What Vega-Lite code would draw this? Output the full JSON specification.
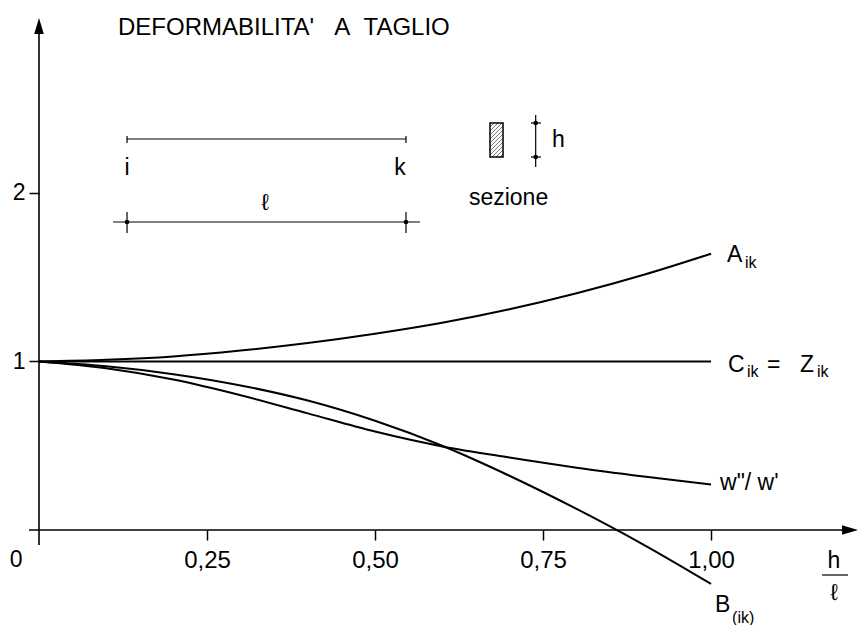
{
  "$schema": "https://vega.github.io/schema/vega-lite/v6.json",
  "width": 821,
  "height": 625,
  "autosize": {"type": "none"},
  "padding": {"left": 39, "top": 0, "right": 0, "bottom": 0},
  "background": "white",
  "config": {
    "view": {"stroke": null},
    "text": {"font": "Liberation Sans", "color": "black"}
  },
  "datasets": {
    "curves": [
      {"series": "A", "x": 0, "y": 1}, {"series": "A", "x": 0.1, "y": 1.01}, {"series": "A", "x": 0.2, "y": 1.03},
      {"series": "A", "x": 0.3, "y": 1.065}, {"series": "A", "x": 0.4, "y": 1.11}, {"series": "A", "x": 0.5, "y": 1.165},
      {"series": "A", "x": 0.6, "y": 1.23}, {"series": "A", "x": 0.7, "y": 1.31}, {"series": "A", "x": 0.8, "y": 1.405},
      {"series": "A", "x": 0.9, "y": 1.515}, {"series": "A", "x": 1.0, "y": 1.64},
      {"series": "C", "x": 0, "y": 1}, {"series": "C", "x": 1.0, "y": 1},
      {"series": "B", "x": 0, "y": 1}, {"series": "B", "x": 0.1, "y": 0.972}, {"series": "B", "x": 0.2, "y": 0.925},
      {"series": "B", "x": 0.3, "y": 0.858}, {"series": "B", "x": 0.4, "y": 0.768}, {"series": "B", "x": 0.5, "y": 0.648},
      {"series": "B", "x": 0.6, "y": 0.5}, {"series": "B", "x": 0.7, "y": 0.322}, {"series": "B", "x": 0.8, "y": 0.125},
      {"series": "B", "x": 0.9, "y": -0.088}, {"series": "B", "x": 1.0, "y": -0.32},
      {"series": "W", "x": 0, "y": 1}, {"series": "W", "x": 0.1, "y": 0.96}, {"series": "W", "x": 0.2, "y": 0.893},
      {"series": "W", "x": 0.3, "y": 0.8}, {"series": "W", "x": 0.4, "y": 0.692}, {"series": "W", "x": 0.5, "y": 0.584},
      {"series": "W", "x": 0.6, "y": 0.496}, {"series": "W", "x": 0.7, "y": 0.43}, {"series": "W", "x": 0.8, "y": 0.37},
      {"series": "W", "x": 0.9, "y": 0.318}, {"series": "W", "x": 1.0, "y": 0.27}
    ],
    "axisLines": [
      {"x": 0, "y": -0.089, "x2": 0, "y2": 2.97},
      {"x": -0.0149, "y": 0, "x2": 1.2, "y2": 0}
    ],
    "insetLines": [
      {"x": 0.131, "y": 2.3205, "x2": 0.5461, "y2": 2.3205},
      {"x": 0.131, "y": 2.3383, "x2": 0.131, "y2": 2.2967},
      {"x": 0.5461, "y": 2.3383, "x2": 0.5461, "y2": 2.2967},
      {"x": 0.1101, "y": 1.8279, "x2": 0.567, "y2": 1.8279},
      {"x": 0.131, "y": 1.8872, "x2": 0.131, "y2": 1.7626},
      {"x": 0.5461, "y": 1.8872, "x2": 0.5461, "y2": 1.7626},
      {"x": 0.7391, "y": 2.4629, "x2": 0.7391, "y2": 2.1543},
      {"x": 0.7321, "y": 2.4154, "x2": 0.747, "y2": 2.4154},
      {"x": 0.7321, "y": 2.2136, "x2": 0.747, "y2": 2.2136},
      {"x": 1.1652, "y": -0.2671, "x2": 1.2039, "y2": -0.2671}
    ],
    "hatch": [
      {"x": 0.6711, "y": 2.3917, "x2": 0.6771, "y2": 2.4154},
      {"x": 0.6711, "y": 2.368, "x2": 0.683, "y2": 2.4154},
      {"x": 0.6711, "y": 2.3442, "x2": 0.689, "y2": 2.4154},
      {"x": 0.6711, "y": 2.3205, "x2": 0.6905, "y2": 2.3976},
      {"x": 0.6711, "y": 2.2967, "x2": 0.6905, "y2": 2.3739},
      {"x": 0.6711, "y": 2.273, "x2": 0.6905, "y2": 2.3501},
      {"x": 0.6711, "y": 2.2493, "x2": 0.6905, "y2": 2.3264},
      {"x": 0.6711, "y": 2.2255, "x2": 0.6905, "y2": 2.3027},
      {"x": 0.6741, "y": 2.2136, "x2": 0.6905, "y2": 2.2789},
      {"x": 0.6801, "y": 2.2136, "x2": 0.6905, "y2": 2.2552},
      {"x": 0.686, "y": 2.2136, "x2": 0.6905, "y2": 2.2315}
    ],
    "section": [{"x": 0.6711, "x2": 0.6905, "y": 2.4154, "y2": 2.2136}],
    "dots": [
      {"x": 0.131, "y": 1.8279}, {"x": 0.5461, "y": 1.8279},
      {"x": 0.7391, "y": 2.4154}, {"x": 0.7391, "y": 2.2136}
    ],
    "arrowUp": [{"x": 0, "y": 2.991}],
    "arrowRight": [{"x": 1.2068, "y": 0}],
    "labelsLeft": [
      {"t": "A", "x": 1.0238, "y": 1.5905},
      {"t": "C", "x": 1.0253, "y": 0.9377},
      {"t": "=", "x": 1.0833, "y": 0.9377},
      {"t": "Z", "x": 1.1324, "y": 0.9377},
      {"t": "w\"/ w'", "x": 1.0134, "y": 0.2374},
      {"t": "B", "x": 1.006, "y": -0.4866},
      {"t": "h", "x": 0.7634, "y": 2.273}
    ],
    "subs": [
      {"t": "ik", "x": 1.0506, "y": 1.5549},
      {"t": "ik", "x": 1.0536, "y": 0.908},
      {"t": "ik", "x": 1.1577, "y": 0.908},
      {"t": "(ik)", "x": 1.0313, "y": -0.5519}
    ],
    "labelsCenter": [
      {"t": "i", "x": 0.131, "y": 2.107},
      {"t": "k", "x": 0.5372, "y": 2.107},
      {"t": "ℓ", "x": 0.3363, "y": 1.899},
      {"t": "sezione", "x": 0.6987, "y": 1.9288},
      {"t": "h", "x": 1.183, "y": -0.2255},
      {"t": "ℓ", "x": 1.183, "y": -0.4154},
      {"t": "0", "x": -0.0342, "y": -0.2196}
    ],
    "title": [{"t": "DEFORMABILITA'\u00a0\u00a0\u00a0A\u00a0\u00a0TAGLIO", "x": 0.1176, "y": 2.9377}]
  },
  "layer": [
    {
      "data": {"name": "curves"},
      "mark": {"type": "line", "interpolate": "monotone", "color": "black", "strokeWidth": 2},
      "encoding": {
        "x": {
          "field": "x", "type": "quantitative", "title": null,
          "scale": {"domain": [0, 1.2217], "nice": false, "zero": false},
          "axis": {
            "orient": "bottom", "offset": -95, "values": [0.25, 0.5, 0.75, 1.0],
            "domain": false, "grid": false, "tickSize": 10, "tickWidth": 1.5, "tickColor": "black",
            "labelExpr": "replace(format(datum.value, '.2f'), '.', ',')",
            "labelFont": "Liberation Sans", "labelFontSize": 24, "labelColor": "black",
            "labelPadding": 8, "title": null
          }
        },
        "y": {
          "field": "y", "type": "quantitative", "title": null,
          "scale": {"domain": [-0.5638, 3.1454], "nice": false, "zero": false},
          "axis": {
            "orient": "left", "values": [1, 2], "domain": false, "grid": false,
            "tickSize": 10, "tickWidth": 1.5, "tickColor": "black",
            "labelExpr": "format(datum.value, 'd')",
            "labelFont": "Liberation Sans", "labelFontSize": 23, "labelColor": "black",
            "labelPadding": 4, "title": null
          }
        },
        "detail": {"field": "series"}
      }
    },
    {
      "data": {"name": "axisLines"},
      "mark": {"type": "rule", "color": "black", "strokeWidth": 1.6},
      "encoding": {
        "x": {"field": "x", "type": "quantitative", "title": null},
        "y": {"field": "y", "type": "quantitative", "title": null},
        "x2": {"field": "x2"},
        "y2": {"field": "y2"}
      }
    },
    {
      "data": {"name": "insetLines"},
      "mark": {"type": "rule", "color": "black", "strokeWidth": 1.2},
      "encoding": {
        "x": {"field": "x", "type": "quantitative", "title": null},
        "y": {"field": "y", "type": "quantitative", "title": null},
        "x2": {"field": "x2"},
        "y2": {"field": "y2"}
      }
    },
    {
      "data": {"name": "hatch"},
      "mark": {"type": "rule", "color": "#555555", "strokeWidth": 0.8},
      "encoding": {
        "x": {"field": "x", "type": "quantitative", "title": null},
        "y": {"field": "y", "type": "quantitative", "title": null},
        "x2": {"field": "x2"},
        "y2": {"field": "y2"}
      }
    },
    {
      "data": {"name": "section"},
      "mark": {"type": "rect", "filled": false, "stroke": "black", "strokeWidth": 1.5},
      "encoding": {
        "x": {"field": "x", "type": "quantitative", "title": null},
        "x2": {"field": "x2"},
        "y": {"field": "y", "type": "quantitative", "title": null},
        "y2": {"field": "y2"}
      }
    },
    {
      "data": {"name": "dots"},
      "mark": {"type": "point", "shape": "circle", "filled": true, "color": "black", "size": 22, "opacity": 1},
      "encoding": {
        "x": {"field": "x", "type": "quantitative", "title": null},
        "y": {"field": "y", "type": "quantitative", "title": null}
      }
    },
    {
      "data": {"name": "arrowUp"},
      "mark": {"type": "point", "shape": "M0,-1L0.6,1L-0.6,1Z", "filled": true, "color": "black", "size": 256, "opacity": 1},
      "encoding": {
        "x": {"field": "x", "type": "quantitative", "title": null},
        "y": {"field": "y", "type": "quantitative", "title": null}
      }
    },
    {
      "data": {"name": "arrowRight"},
      "mark": {"type": "point", "shape": "M1,0L-1,0.6L-1,-0.6Z", "filled": true, "color": "black", "size": 256, "opacity": 1},
      "encoding": {
        "x": {"field": "x", "type": "quantitative", "title": null},
        "y": {"field": "y", "type": "quantitative", "title": null}
      }
    },
    {
      "data": {"name": "labelsLeft"},
      "mark": {"type": "text", "align": "left", "baseline": "alphabetic", "fontSize": 23, "font": "Liberation Sans"},
      "encoding": {
        "x": {"field": "x", "type": "quantitative", "title": null},
        "y": {"field": "y", "type": "quantitative", "title": null},
        "text": {"field": "t"}
      }
    },
    {
      "data": {"name": "subs"},
      "mark": {"type": "text", "align": "left", "baseline": "alphabetic", "fontSize": 16, "font": "Liberation Sans"},
      "encoding": {
        "x": {"field": "x", "type": "quantitative", "title": null},
        "y": {"field": "y", "type": "quantitative", "title": null},
        "text": {"field": "t"}
      }
    },
    {
      "data": {"name": "labelsCenter"},
      "mark": {"type": "text", "align": "center", "baseline": "alphabetic", "fontSize": 23, "font": "Liberation Sans"},
      "encoding": {
        "x": {"field": "x", "type": "quantitative", "title": null},
        "y": {"field": "y", "type": "quantitative", "title": null},
        "text": {"field": "t"}
      }
    },
    {
      "data": {"name": "title"},
      "mark": {"type": "text", "align": "left", "baseline": "alphabetic", "fontSize": 24, "font": "Liberation Sans"},
      "encoding": {
        "x": {"field": "x", "type": "quantitative", "title": null},
        "y": {"field": "y", "type": "quantitative", "title": null},
        "text": {"field": "t"}
      }
    }
  ]
}
